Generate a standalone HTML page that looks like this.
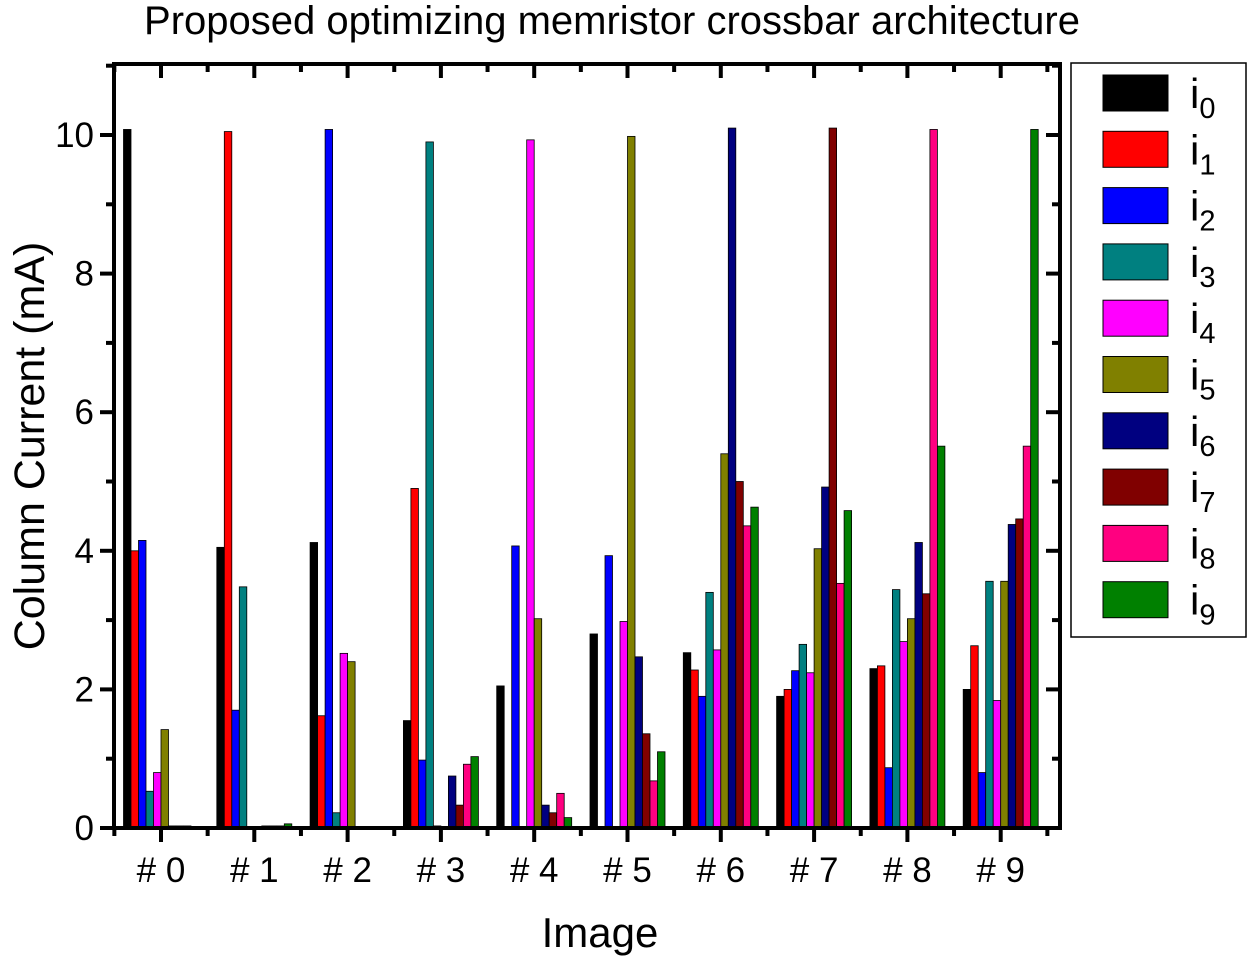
<!DOCTYPE html>
<html><head><meta charset="utf-8"><style>
html,body{margin:0;padding:0;background:#fff;}
svg{display:block;font-family:"Liberation Sans",Arial,sans-serif;}
</style></head><body>
<svg id="s" width="1254" height="965" xmlns="http://www.w3.org/2000/svg">
<text x="612" y="34" font-size="40" text-anchor="middle">Proposed optimizing memristor crossbar architecture</text>
<g id="bars"></g>
<g id="axes" stroke="#000" fill="none"></g>
<text x="600" y="947" font-size="42" text-anchor="middle">Image</text>
<text transform="translate(44,446) rotate(-90)" font-size="43" text-anchor="middle">Column Current (mA)</text>
<rect x="1071" y="63" width="175" height="574" fill="#fff" stroke="#000" stroke-width="1.5"/>
<g id="leg"></g>
</svg>
<script>
var C=["#000000","#ff0000","#0000ff","#008080","#ff00ff","#808000","#000080","#800000","#ff0080","#008000"];
var D=[
[10.08,4.0,4.15,0.53,0.8,1.42,0.03,0.03,0.03,0.02],
[4.05,10.05,1.7,3.48,0.02,0.02,0.03,0.03,0.03,0.06],
[4.12,1.62,10.08,0.22,2.52,2.4,0.02,0.02,0.02,0.02],
[1.55,4.9,0.98,9.9,0.03,0.02,0.75,0.33,0.92,1.03],
[2.05,0.02,4.07,0.02,9.93,3.02,0.33,0.22,0.5,0.15],
[2.8,0.02,3.93,0.02,2.98,9.98,2.47,1.36,0.68,1.1],
[2.53,2.28,1.9,3.4,2.57,5.4,10.1,5.0,4.36,4.63],
[1.9,2.0,2.27,2.65,2.24,4.03,4.92,10.1,3.53,4.58],
[2.3,2.34,0.87,3.44,2.69,3.02,4.12,3.38,10.08,5.51],
[2.0,2.63,0.8,3.56,1.84,3.56,4.38,4.46,5.51,10.08]];
var y0=828,k=69.3,c0=161,sp=93.3,bw=7.5,h="";
for(var g=0;g<10;g++)for(var i=0;i<10;i++){var x=c0+g*sp-37.5+i*bw,hh=D[g][i]*k;
h+='<rect x="'+x+'" y="'+(y0-hh)+'" width="'+bw+'" height="'+hh+'" fill="'+C[i]+'" stroke="#000" stroke-width="0.8"/>';}
document.getElementById("bars").innerHTML=h;
var L=114,R=1060,T=64,a="";
a+='<rect x="'+L+'" y="'+T+'" width="'+(R-L)+'" height="'+(y0-T)+'" stroke-width="4"/>';
for(var v=0;v<=11;v++){var y=y0-v*k;if(y<T)break;var maj=v%2==0;
a+='<line x1="'+(L-(maj?14:8))+'" y1="'+y+'" x2="'+L+'" y2="'+y+'" stroke-width="4"/>';
a+='<line x1="'+R+'" y1="'+y+'" x2="'+(R-(maj?14:8))+'" y2="'+y+'" stroke-width="4"/>';
if(maj)a+='<text x="'+(L-20)+'" y="'+(y+12)+'" font-size="35" text-anchor="end" fill="#000" stroke="none">'+v+'</text>';}
for(var g=0;g<10;g++){var x=c0+g*sp;
a+='<line x1="'+x+'" y1="'+y0+'" x2="'+x+'" y2="'+(y0+14)+'" stroke-width="4"/>';
a+='<line x1="'+x+'" y1="'+T+'" x2="'+x+'" y2="'+(T+14)+'" stroke-width="4"/>';
var m=x-sp/2;a+='<line x1="'+m+'" y1="'+y0+'" x2="'+m+'" y2="'+(y0+8)+'" stroke-width="4"/>';
a+='<line x1="'+m+'" y1="'+T+'" x2="'+m+'" y2="'+(T+8)+'" stroke-width="4"/>';
a+='<text x="'+x+'" y="'+(y0+54)+'" font-size="35" text-anchor="middle" fill="#000" stroke="none"># '+g+'</text>';}
var m=c0+9.5*sp;a+='<line x1="'+m+'" y1="'+y0+'" x2="'+m+'" y2="'+(y0+8)+'" stroke-width="4"/><line x1="'+m+'" y1="'+T+'" x2="'+m+'" y2="'+(T+8)+'" stroke-width="4"/>';
document.getElementById("axes").innerHTML=a;
var l="";for(var i=0;i<10;i++){var y=75+i*56.3;
l+='<rect x="1103" y="'+y+'" width="65" height="36" fill="'+C[i]+'" stroke="#000" stroke-width="1"/>';
l+='<text x="1190" y="'+(y+33)+'" font-size="42">i<tspan font-size="29" dy="10">'+i+'</tspan></text>';}
document.getElementById("leg").innerHTML=l;
</script>
</body></html>
